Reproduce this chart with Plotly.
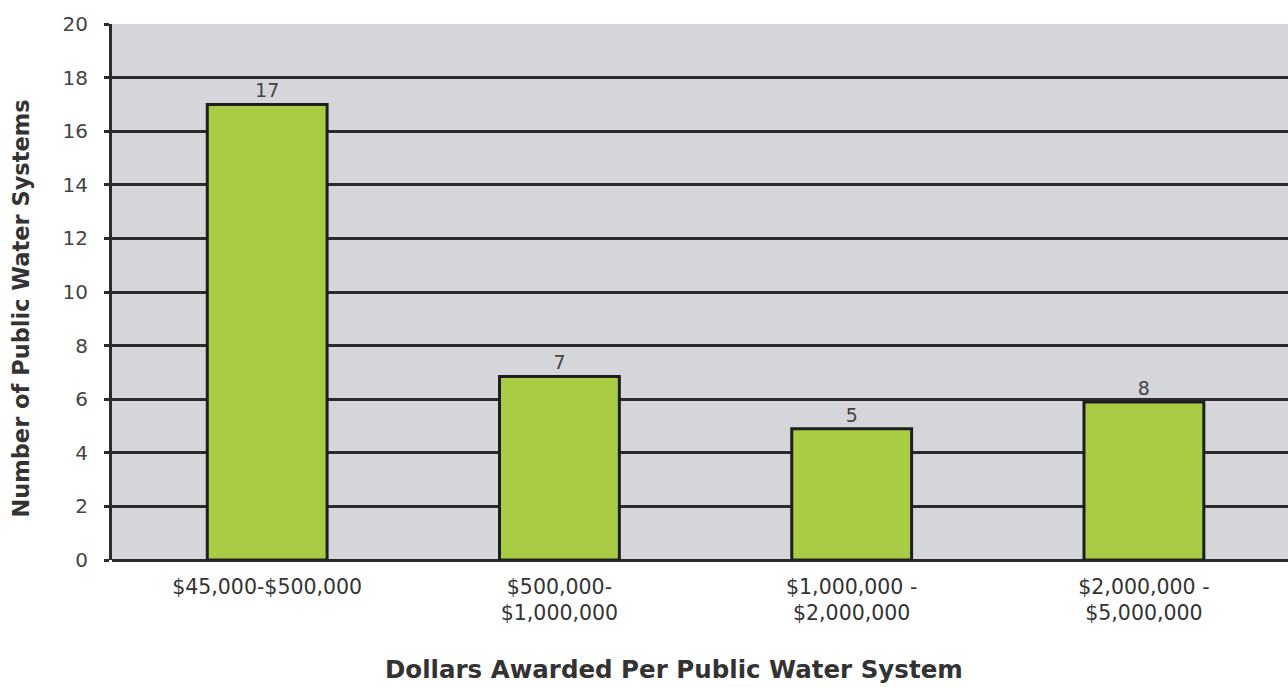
import plotly.graph_objects as go

categories = ["$45,000-$500,000", "$500,000-<br>$1,000,000", "$1,000,000 -<br>$2,000,000", "$2,000,000 -<br>$5,000,000"]
bar_heights = [17, 6.85, 4.9, 5.9]
bar_labels = ["17", "7", "5", "8"]
y_ticks = [0, 2, 4, 6, 8, 10, 12, 14, 16, 18, 20]

xpos = list(range(len(categories)))
dark = "#2b2b2b"
font_family = "DejaVu Sans, Lato, sans-serif"

fig = go.Figure()
fig.add_trace(go.Bar(
    x=xpos, y=bar_heights, width=0.41,
    marker=dict(color="#a8cd45", line=dict(color="#1e1e1e", width=3)),
    text=bar_labels, textposition="outside", cliponaxis=False,
    textfont=dict(size=19, color="#444444", family=font_family),
))

fig.update_layout(
    width=1288, height=687,
    margin=dict(l=112, r=0, t=24, b=127),
    paper_bgcolor="white", plot_bgcolor="#d4d6da",
    showlegend=False,
    font=dict(family=font_family, color="#333333"),
    xaxis=dict(
        range=[-0.531, 3.493], tickmode="array", tickvals=xpos, ticktext=categories,
        showgrid=False, zeroline=False, showline=False, ticks="",
        tickfont=dict(size=20.5, color="#333333"),
        ticklabelstandoff=12,
    ),
    yaxis=dict(
        range=[0, 20], tickmode="array", tickvals=y_ticks,
        showgrid=True, gridcolor=dark, gridwidth=3,
        zeroline=True, zerolinecolor=dark, zerolinewidth=3,
        showline=True, linecolor=dark, linewidth=3,
        ticks="outside", ticklen=5, tickwidth=3, tickcolor=dark,
        tickfont=dict(size=20, color="#444444"),
        ticklabelstandoff=12,
    ),
    annotations=[
        dict(text="<b>Dollars Awarded Per Public Water System</b>",
             xref="paper", yref="paper", x=0.478, y=-0.205,
             xanchor="center", yanchor="middle", showarrow=False,
             font=dict(size=24.5, color="#333333")),
        dict(text="<b>Number of Public Water Systems</b>",
             xref="paper", yref="paper", x=-0.077, y=0.47, textangle=-90,
             xanchor="center", yanchor="middle", showarrow=False,
             font=dict(size=22.5, color="#333333")),
    ],
)

fig.write_html("out.html")
